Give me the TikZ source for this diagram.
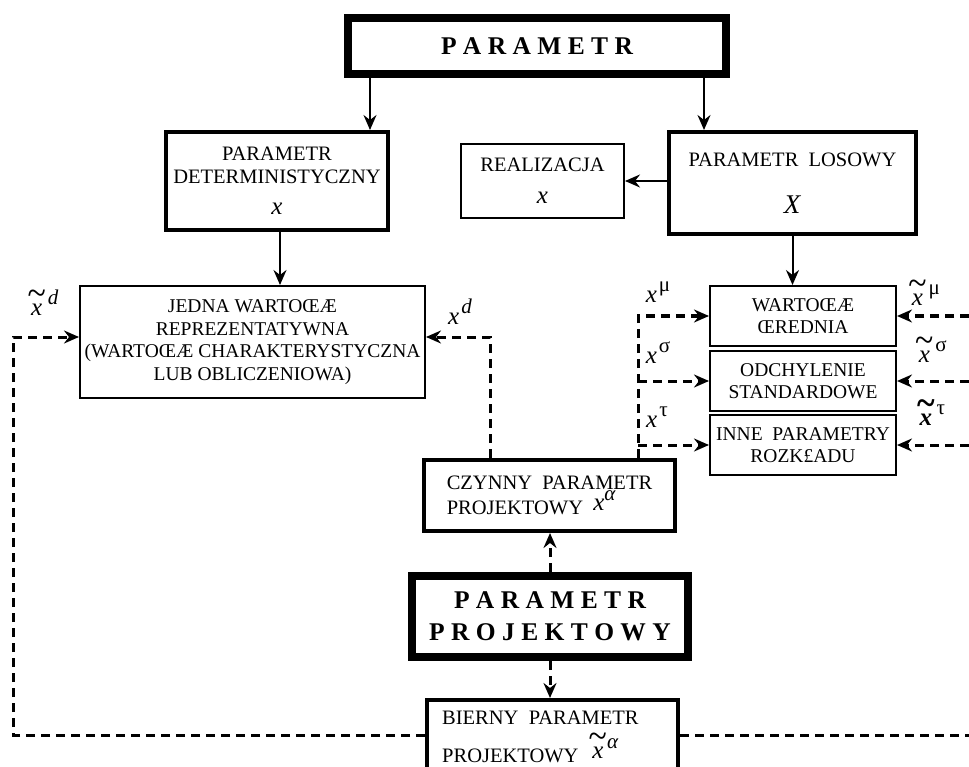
\RequirePackage{fix-cm}
\documentclass[tikz,border=0pt]{standalone}
\usepackage{fontspec}
\usepackage{graphicx}
\setmainfont{Liberation Serif}
\usetikzlibrary{arrows.meta,calc}
\newcommand\rfnt{\fontsize{20.5}{23}\selectfont}
\newcommand\sfnt{\fontsize{19.5}{22.5}\selectfont}
\newcommand\bfnt{\fontsize{25.5}{32}\selectfont\bfseries}
\newcommand\xfnt{\fontsize{25}{25}\selectfont}
\newcommand\supfnt{\fontsize{21}{21}\selectfont}
\newcommand\vx{\textit{x}}
\newcommand\tvx{\ooalign{\hfil\raisebox{0.40em}{\scalebox{1.35}[1.5]{\textasciitilde}}\hfil\cr\hfil\textit{x}\hfil\cr}}
\newcommand\btvx{\ooalign{\hfil\raisebox{0.40em}{\scalebox{1.35}[1.5]{\bfseries\textasciitilde}}\hfil\cr\hfil\textit{\bfseries x}\hfil\cr}}
\newcommand\sups[1]{\kern2pt\raisebox{0.45em}{\supfnt #1}}
\tikzset{
  thinbox/.style={draw, line width=2pt, inner sep=0pt, align=center, font=\rfnt},
  medbox/.style={draw, line width=4pt, inner sep=0pt, align=center, font=\rfnt},
  heavybox/.style={draw, line width=8pt, inner sep=0pt, align=center, font=\bfnt},
  arr/.style={line width=2pt, -{Stealth[length=15pt,width=13pt,inset=5pt]}},
  darr/.style={line width=3pt, dash pattern=on 9pt off 6pt, -{Stealth[length=15pt,width=13pt,inset=5pt]}},
  dline/.style={line width=3pt, dash pattern=on 9pt off 6pt},
  lbl/.style={inner sep=0pt, font=\xfnt}
}
\begin{document}
\begin{tikzpicture}[x=1pt,y=-1pt]
\useasboundingbox (0,0) rectangle (969,767);
% boxes
\node[heavybox, minimum width=378pt, minimum height=56pt] (p) at (537,46) {P A R A M E T R};
\node[medbox, minimum width=222pt, minimum height=98pt] (det) at (277,181)
  {PARAMETR\\DETERMINISTYCZNY\\[8pt]{\xfnt\vx}};
\node[thinbox, minimum width=163pt, minimum height=74pt] (real) at (542.5,181)
  {REALIZACJA\\[9pt]{\xfnt\vx}};
\node[medbox, minimum width=247pt, minimum height=102pt] (los) at (792.5,183)
  {PARAMETR\ \ LOSOWY\\[24pt]{\fontsize{27}{27}\selectfont\textit{X}}};
\node[thinbox, font=\sfnt, minimum width=345pt, minimum height=112pt] (jedna) at (252.5,342)
  {JEDNA WARTOŒÆ\\REPREZENTATYWNA\\(WARTOŒÆ CHARAKTERYSTYCZNA\\LUB OBLICZENIOWA)};
\node[thinbox, font=\sfnt, minimum width=186pt, minimum height=60pt] (w1) at (803,316) {WARTOŒÆ\\ŒREDNIA};
\node[thinbox, font=\sfnt, minimum width=186pt, minimum height=60pt] (w2) at (803,381) {ODCHYLENIE\\STANDARDOWE};
\node[thinbox, font=\sfnt, minimum width=186pt, minimum height=60pt] (w3) at (803,445) {INNE\ \ PARAMETRY\\ROZK£ADU};
\node[medbox, minimum width=251pt, minimum height=71pt, align=left] (czy) at (549.5,495.5)
  {CZYNNY\ \ PARAMETR\\PROJEKTOWY\ \ \raisebox{4pt}{{\xfnt\vx}\raisebox{0.5em}{\supfnt\textit{α}}}};
\node[heavybox, minimum width=276pt, minimum height=81pt] (proj) at (550,616.5)
  {P A R A M E T R\\P R O J E K T O W Y};
\node[medbox, minimum width=251pt, minimum height=90pt] (bier) at (552.5,745) {};
\node[inner sep=0pt, anchor=north west, align=left, font=\rfnt] (biertxt) at (442,711)
  {BIERNY\ \ PARAMETR\\[7pt]PROJEKTOWY\ \ \raisebox{4pt}{{\xfnt\tvx}\raisebox{0.5em}{\supfnt\textit{α}}}};
% coordinates
\coordinate (sx) at (638,0);
\coordinate (rx) at (969,0);
\coordinate (bl) at (13,735);
\coordinate (br) at (969,735);
\coordinate (jx) at (490,0);
% solid arrows
\draw[arr] ([xshift=-167pt]p.south) -- ([xshift=-167pt]p.south |- det.north);
\draw[arr] ([xshift=167pt]p.south) -- ([xshift=167pt]p.south |- los.north);
\draw[arr] (real.east -| los.west) -- (real.east);
\draw[arr] ([xshift=3pt]det.south) -- ([xshift=3pt]det.south |- jedna.north);
\draw[arr] (los.south) -- (los.south |- w1.north);
% dashed arrows
\draw[darr] (proj.north) -- (proj.north |- czy.south);
\draw[darr] (proj.south) -- (proj.south |- bier.north);
\draw[darr] (czy.north -| jx) |- ([yshift=5pt]jedna.east);
\draw[darr] ([yshift=10pt]bier.west) -- (bl) |- ([yshift=5pt]jedna.west);
\draw[dline] ([yshift=10pt]bier.east) -- (br);
\draw[darr] (czy.north -| sx) |- (w1.west);
\draw[darr] (sx |- w2.west) -- (w2.west);
\draw[darr] (sx |- w3.west) -- (w3.west);
\draw[darr] (rx |- w1.east) -- (w1.east);
\draw[darr] (rx |- w2.east) -- (w2.east);
\draw[darr] (rx |- w3.east) -- (w3.east);
% labels
\node[lbl] (ltd) at (43,303) {\tvx\sups{\textit{d}}};
\node[lbl] (lxd) at (460,312) {\vx\sups{\textit{d}}};
\node[lbl] (lxm) at (658,292) {\vx\sups{μ}};
\node[lbl] (lxs) at (658,353) {\vx\sups{σ}};
\node[lbl] (lxt) at (657,417) {\vx\sups{τ}};
\node[lbl] (ltm) at (924,293) {\tvx\sups{μ}};
\node[lbl] (lts) at (931,350) {\tvx\sups{σ}};
\node[lbl] (ltt) at (931,413) {\btvx\sups{τ}};
\end{tikzpicture}
\end{document}
